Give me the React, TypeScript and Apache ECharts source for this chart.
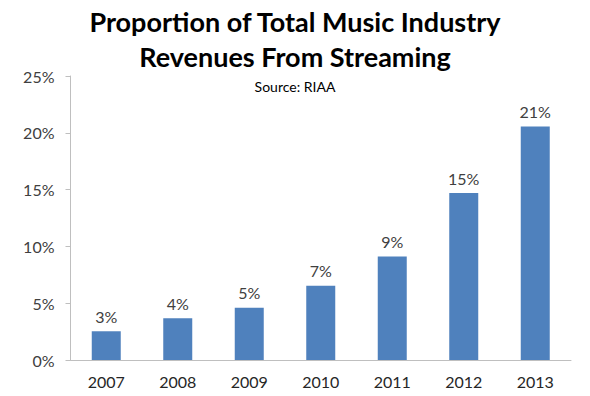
import React, { useEffect, useRef } from "react";
import * as echarts from "echarts";

const years = ["2007", "2008", "2009", "2010", "2011", "2012", "2013"];
const streamingShare = [2.53, 3.67, 4.6, 6.54, 9.1, 14.7, 20.55];
const titleLines = ["Proportion of Total Music Industry", "Revenues From Streaming"];
const subtitle = "Source: RIAA";

export default function App() {
  const ref = useRef<HTMLDivElement>(null);
  useEffect(() => {
    if (!ref.current) return;
    const chart = echarts.init(ref.current, undefined, { renderer: "svg" });
    const font = "Lato, 'Open Sans', sans-serif";
    chart.setOption({
      animation: false,
      backgroundColor: "#ffffff",
      title: [
        {
          text: titleLines.join("\n"),
          left: "center",
          top: -1,
          textStyle: {
            fontFamily: font,
            fontSize: 27,
            fontWeight: "bold",
            color: "#000000",
            lineHeight: 35,
          },
        },
        {
          text: subtitle,
          left: "center",
          top: 74,
          textStyle: {
            fontFamily: font,
            fontSize: 14,
            fontWeight: "normal",
            color: "#000000",
          },
        },
      ],
      grid: { left: 70.5, right: 19, top: 76, bottom: 36, containLabel: false },
      xAxis: {
        type: "category",
        data: years,
        axisLine: { show: true, lineStyle: { color: "#BFBFBF", width: 1 } },
        axisTick: { show: false },
        axisLabel: { fontFamily: font, fontSize: 16, color: "#262626", margin: 13 },
      },
      yAxis: {
        type: "value",
        min: 0,
        max: 25,
        interval: 5,
        axisLine: { show: true, lineStyle: { color: "#BFBFBF", width: 1 } },
        axisTick: { show: true, length: 5, lineStyle: { color: "#BFBFBF" } },
        splitLine: { show: false },
        axisLabel: {
          fontFamily: font,
          fontSize: 16,
          color: "#404040",
          margin: 16,
          formatter: (v: number) => `${v}%`,
        },
      },
      series: [
        {
          type: "bar",
          data: streamingShare,
          barWidth: 29,
          itemStyle: { color: "#4F81BD" },
          label: {
            show: true,
            position: "top",
            distance: 7,
            fontFamily: font,
            fontSize: 16,
            color: "#404040",
            formatter: (p: any) => `${Math.round(p.value)}%`,
          },
        },
      ],
    });
    return () => chart.dispose();
  }, []);
  return (
    <div
      ref={ref}
      style={{ position: "fixed", left: 0, top: 0, width: 590, height: 396 }}
    />
  );
}
